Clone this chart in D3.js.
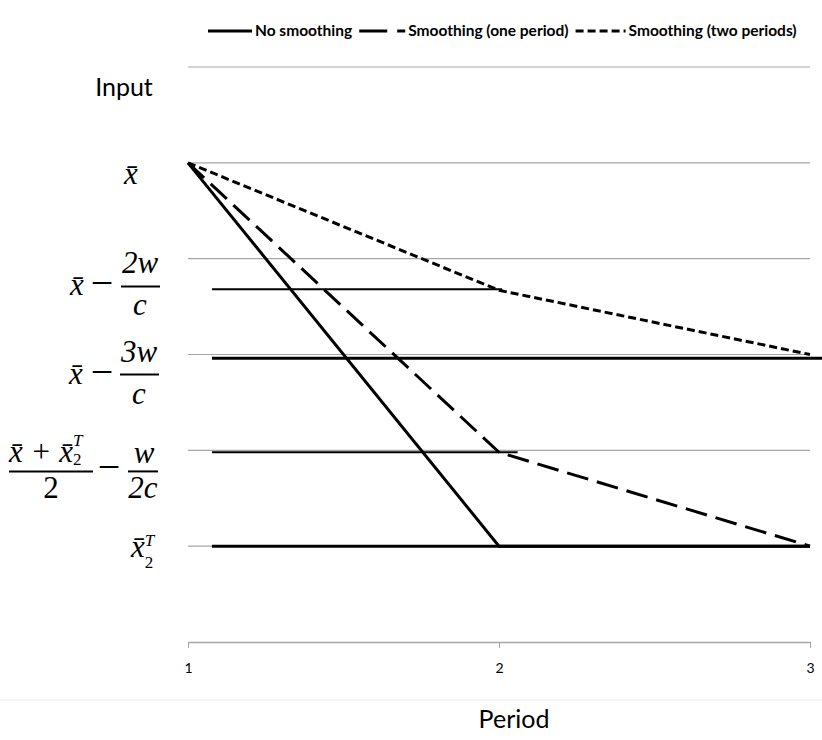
<!DOCTYPE html>
<html lang="en">
<head>
<meta charset="UTF-8">
<title>Input by period</title>
<script src="https://d3js.org/d3.v7.min.js"></script>
<style>
  body { margin: 0; background: #fff; }
  .grid line { stroke: #a6a6a6; stroke-width: 1.2; }
  .math { font-family: "Liberation Serif", "DejaVu Serif", serif; font-style: italic; fill: #000; }
  .up { font-style: normal; }
  .sans { font-family: Lato, "Open Sans", sans-serif; fill: #000; }
</style>
</head>
<body>
<svg id="chart" width="822" height="740"></svg>
<script>
// data
const periods = [1, 2, 3];
const seriesNames = ["No smoothing", "Smoothing (one period)", "Smoothing (two periods)"];
const noSmoothing = [5, 1, 1];
const smoothOne = [5, 1.98, 1];
const smoothTwo = [5, 3.67, 3];
const gridValues = [1, 2, 3, 4, 5, 6];

// black reference levels (value, period where it starts / ends)
const refValues = [3.68, 2.96, 1.98, 1.0];
const refStart = [1.077, 1.077, 1.077, 1.077];
const refEnd = [2.01, 3.04, 2.06, 3.0];

// where the y labels sit (in y units)
const labelValues = [4.85, 3.70, 2.78, 1.78, 0.91];

const svg = d3.select("#chart");
const x = d3.scaleLinear().domain([1, 3]).range([188, 810]);
const y = d3.scaleLinear().domain([0, 6]).range([642, 67]);

// gridlines
svg.append("g").attr("class", "grid")
  .selectAll("line").data(gridValues).enter().append("line")
  .attr("x1", x(1)).attr("x2", x(3))
  .attr("y1", d => y(d)).attr("y2", d => y(d));

// faint border under the axis
svg.append("line").attr("x1", 0).attr("x2", 822).attr("y1", 700).attr("y2", 700)
  .attr("stroke", "#ececec").attr("stroke-width", 1);

// x axis
const xAxis = svg.append("g")
  .attr("transform", `translate(0,${y(0)})`)
  .call(d3.axisBottom(x).tickValues(periods).tickSize(6).tickSizeOuter(0).tickPadding(15).tickFormat(d3.format("d")));
xAxis.select(".domain").attr("stroke", "#a6a6a6").attr("stroke-width", 1.5);
xAxis.selectAll(".tick line").attr("stroke", "#a6a6a6");
xAxis.selectAll(".tick text").attr("font-family", "Lato, sans-serif").attr("font-size", 14).attr("fill", "#000");

svg.append("text").attr("class", "sans")
  .attr("x", 514).attr("y", 728).attr("text-anchor", "middle")
  .attr("font-size", 25).text("Period");

svg.append("text").attr("class", "sans")
  .attr("x", 124).attr("y", 96).attr("text-anchor", "middle")
  .attr("font-size", 25).text("Input");

// reference lines
svg.append("g").selectAll("line").data(refValues).enter().append("line")
  .attr("x1", (d, i) => x(refStart[i])).attr("x2", (d, i) => x(refEnd[i]))
  .attr("y1", d => y(d)).attr("y2", d => y(d))
  .attr("stroke", "#000").attr("stroke-width", (d, i) => i % 2 ? 3 : 2);

// series
const line = d3.line().x((d, i) => x(periods[i])).y(d => y(d));
const series = [noSmoothing, smoothOne, smoothTwo];
const dashes = [null, "22,9", "8,4"];
svg.append("g").selectAll("path").data(series).enter().append("path")
  .attr("d", d => line(d))
  .attr("fill", "none").attr("stroke", "#000").attr("stroke-width", 3)
  .attr("stroke-dasharray", (d, i) => dashes[i]);

// legend, laid out left to right
const legendDash = [null, "28,10,11,10", "8,4"];
const sampleLen = [44, 46, 50];
const legend = svg.append("g");
let lx = 208;
seriesNames.forEach((name, i) => {
  legend.append("line").attr("x1", lx).attr("x2", lx + sampleLen[i])
    .attr("y1", 31).attr("y2", 31).attr("stroke", "#000").attr("stroke-width", 3)
    .attr("stroke-dasharray", legendDash[i]);
  lx += sampleLen[i] + 3;
  const txt = legend.append("text").attr("class", "sans")
    .attr("x", lx).attr("y", 36)
    .attr("font-size", 15.5).attr("font-weight", "bold").text(name);
  lx += txt.node().getComputedTextLength() + 7;
});

// y labels (math)
const fs = 31, small = 17;
function t(g, s, xx, yy, anchor, size) {
  return g.append("text").attr("class", "math").attr("x", xx).attr("y", yy)
    .attr("text-anchor", anchor || "middle").attr("font-size", size || fs).text(s);
}
function minus(g, xx) {
  return t(g, "\u2212", xx, 9, "middle", 40).attr("class", "math up");
}
function bar(g, x1, x2, yy) {
  g.append("line").attr("x1", x1).attr("x2", x2).attr("y1", yy).attr("y2", yy)
    .attr("stroke", "#000").attr("stroke-width", 2);
}
// base text followed by a stacked subscript 2 and superscript T
function scripted(g, base, xx, yy, subDy, supDy) {
  const txt = g.append("text").attr("class", "math").attr("x", xx).attr("y", yy)
    .attr("font-size", fs);
  txt.append("tspan").text(base);
  txt.append("tspan").attr("class", "up").attr("font-size", small).attr("dy", subDy).text("2");
  txt.append("tspan").attr("font-size", small).attr("dx", -8.5).attr("dy", supDy).text("T");
  return txt;
}
const xbar = "x\u0304";
const lab = labelValues.map(v => svg.append("g").attr("transform", `translate(0,${y(v)})`));

// x̄
t(lab[0], xbar, 131, 7);

// x̄ − 2w/c and x̄ − 3w/c
[["2w", lab[1], 0], ["3w", lab[2], -1]].forEach(([num, g, dx]) => {
  t(g, xbar, 77 + dx, 8);
  minus(g, 102);
  bar(g, 121 + dx, 160 + dx, -1);
  t(g, num, 140 + dx, -14);
  t(g, "c", 140 + dx, 28);
});

// (x̄ + x̄₂ᵀ)/2 − w/2c
scripted(lab[3], xbar + " + " + xbar, 9, -9, 3, -19);
bar(lab[3], 9, 93, 0);
t(lab[3], "2", 51, 27).attr("class", "math up");
minus(lab[3], 109);
bar(lab[3], 128, 158, 0);
t(lab[3], "w", 144, -8);
t(lab[3], "2c", 143, 27);

// x̄₂ᵀ
scripted(lab[4], xbar, 131, 2, 11, -22);
</script>
</body>
</html>
